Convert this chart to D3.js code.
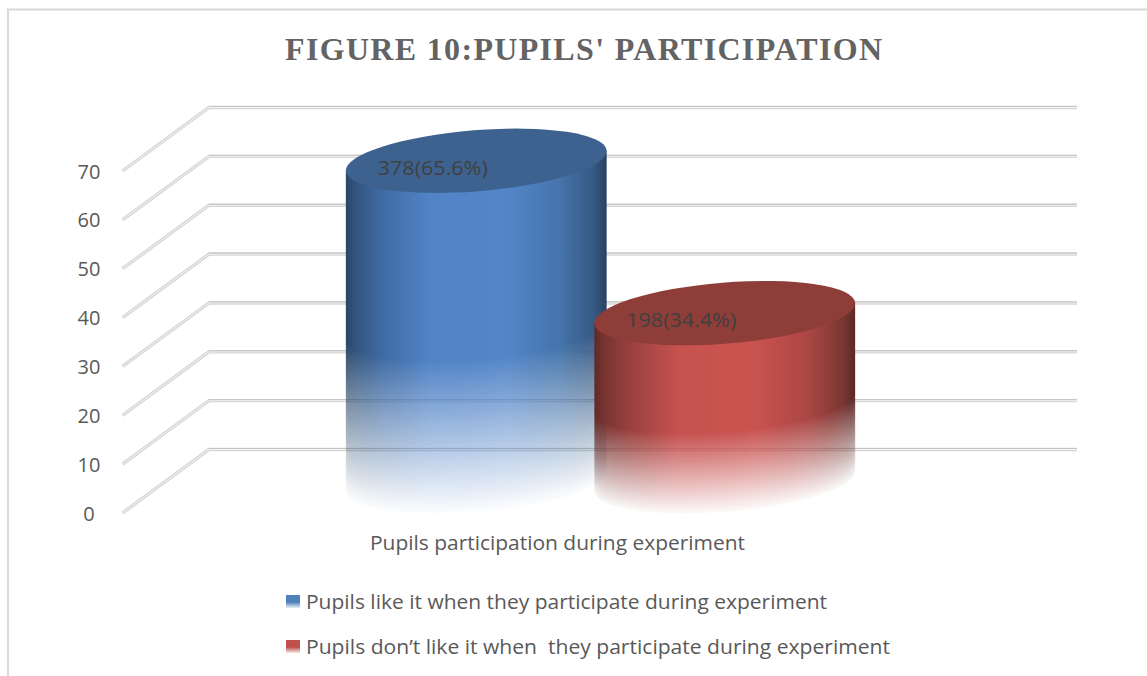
<!DOCTYPE html>
<html><head><meta charset="utf-8">
<script src="https://cdn.jsdelivr.net/npm/d3@7"></script>
<style>html,body{margin:0;padding:0;background:#fff}svg{display:block}</style>
</head><body><div id="chart"></div>
<script>
const titleText = "FIGURE 10:PUPILS' PARTICIPATION";
const categoryLabel = "Pupils participation during experiment";
const seriesNames = ["Pupils like it when they participate during experiment", "Pupils don\u2019t like it when  they participate during experiment"];
const seriesValues = [65.6, 34.4];
const dataLabels = ["378(65.6%)", "198(34.4%)"];
const tickValues = [0, 10, 20, 30, 40, 50, 60, 70];
const bodyStops = [
  [{o:0,c:"#2b4566"},{o:.04,c:"#33567f"},{o:.14,c:"#3f6ba3"},{o:.32,c:"#5183c6"},{o:.62,c:"#5385c8"},{o:.82,c:"#4474aa"},{o:.95,c:"#365a84"},{o:1,c:"#29415f"}],
  [{o:0,c:"#5f2a28"},{o:.04,c:"#793431"},{o:.14,c:"#9a413e"},{o:.32,c:"#c65250"},{o:.62,c:"#c95350"},{o:.82,c:"#ab4744"},{o:.95,c:"#7c3734"},{o:1,c:"#5a2927"}]
];
const capColors = ["#3e6290", "#8f3c38"];
const swatchColors = ["#4f81bd", "#c0504d"];

const W = 1147, H = 676;
const svg = d3.select("#chart").append("svg").attr("width", W).attr("height", H);
const defs = svg.append("defs");
const uiFont = "'Open Sans', Lato, sans-serif";

// frame
svg.append("path").attr("d", `M8,${H}V9.5H${W}`).attr("fill","none").attr("stroke","#d9d9d9").attr("stroke-width",2);

// title
svg.append("text").attr("x",583.5).attr("y",60).attr("text-anchor","middle")
  .attr("font-family","'Liberation Serif',serif").attr("font-weight","bold").attr("font-size",32)
  .attr("fill","#636363").attr("textLength",597).attr("lengthAdjust","spacing").text(titleText);

// scales: front edge of the floor / wall, and depth offset
const yFront = d3.scaleLinear().domain([0,70]).range([513,171]);
const depth = {dx:86.5, dy:-63.5};
const frontX = 122.5, rightX = 1077;
const yMid = v => yFront(v) + depth.dy/2;
const xBand = d3.scaleBand().domain(d3.range(seriesValues.length)).range([352,849]);

// grid
const grid = svg.append("g");
tickValues.forEach(v => {
  const yb = yFront(v)+depth.dy, xb = frontX+depth.dx;
  const d = `M${frontX},${yFront(v)}L${xb},${yb}H${rightX}`;
  grid.append("path").attr("d",d).attr("fill","none").attr("stroke","#d6d6d6").attr("stroke-width",3.4);
  grid.append("path").attr("d",d).attr("fill","none").attr("stroke","#f4f4f4").attr("stroke-width",1);
  grid.append("path").attr("d",`M${xb},${yb-1}H${rightX}`).attr("fill","none").attr("stroke","#c4c4c4").attr("stroke-width",1);
});

// axis labels
tickValues.forEach(v => {
  svg.append("text").attr("x",89).attr("y",yFront(v)+7.5).attr("text-anchor","middle")
    .attr("font-family",uiFont).attr("font-size",20).attr("fill","#595959").text(v);
});

// cylinders
const theta = -4.6*Math.PI/180, a = 130.8, b = 30.5;
const pt = (cx,cy,t)=>[cx+a*Math.cos(t)*Math.cos(theta)-b*Math.sin(t)*Math.sin(theta),
                       cy+a*Math.cos(t)*Math.sin(theta)+b*Math.sin(t)*Math.cos(theta)];
const t0 = Math.atan(-(b/a)*Math.tan(theta));
const lowerArc = (cx,cy)=>d3.range(0,41).map(i=>pt(cx,cy,t0+Math.PI*i/40));
const line = d3.line();
const blur = defs.append("filter").attr("id","soft").attr("x","-5%").attr("y","-5%").attr("width","110%").attr("height","110%");
blur.append("feGaussianBlur").attr("stdDeviation",0.7);

seriesValues.forEach((v,i)=>{
  const cx = xBand(i)+xBand.bandwidth()/2;
  const yTop = yMid(v), yBase = yMid(0);
  const g = defs.append("linearGradient").attr("id","body"+i).attr("x1",0).attr("x2",1).attr("y1",0).attr("y2",0);
  bodyStops[i].forEach(s=>g.append("stop").attr("offset",s.o).attr("stop-color",s.c));

  const fadeStart = yBase-(yBase-yTop)*0.48;
  const mask = defs.append("mask").attr("id","fade"+i).attr("maskUnits","userSpaceOnUse")
    .attr("x",0).attr("y",0).attr("width",W).attr("height",H);
  mask.append("rect").attr("width",W).attr("height",H).attr("fill","#fff");
  for(let y=fadeStart;y<=yBase+2;y+=1.5){
    const k = Math.max(0,Math.min(1,(yBase+2-y)/(yBase+2-fadeStart)));
    const l = Math.round(255*k);
    const arc = lowerArc(cx,y);
    const first = arc[0], last = arc[arc.length-1];
    mask.append("path").attr("fill",`rgb(${l},${l},${l})`)
      .attr("d",line(arc)+`L${last[0]-3},${H}L${first[0]+3},${H}Z`);
  }

  const gr = svg.append("g").attr("filter","url(#soft)");
  const arc = lowerArc(cx,yBase);
  const tr = pt(cx,yTop,t0), tl = pt(cx,yTop,t0+Math.PI);
  gr.append("path").attr("fill",`url(#body${i})`).attr("mask",`url(#fade${i})`)
    .attr("d",`M${tr[0]},${tr[1]}`+line(arc).replace(/^M/,"L")+`L${tl[0]},${tl[1]}Z`);
  gr.append("ellipse").attr("cx",0).attr("cy",0).attr("rx",a).attr("ry",b)
    .attr("transform",`translate(${cx},${yTop}) rotate(${theta*180/Math.PI})`).attr("fill",capColors[i]);
});

// data labels
seriesValues.forEach((v,i)=>{
  const cx = xBand(i)+xBand.bandwidth()/2;
  svg.append("text").attr("x",cx-43.5).attr("y",yMid(v)+14)
    .attr("text-anchor","middle").attr("font-family",uiFont).attr("font-size",20).attr("fill","#404040")
    .attr("textLength",110).attr("lengthAdjust","spacingAndGlyphs").text(dataLabels[i]);
});

// category label
svg.append("text").attr("x",557.5).attr("y",550).attr("text-anchor","middle")
  .attr("font-family",uiFont).attr("font-size",20).attr("fill","#595959")
  .attr("textLength",375).attr("lengthAdjust","spacingAndGlyphs").text(categoryLabel);

// legend
const legendLengths = [521, 584];
seriesNames.forEach((name,i)=>{
  const y0 = 595+i*45;
  const g = defs.append("linearGradient").attr("id","sw"+i).attr("x1",0).attr("x2",0).attr("y1",0).attr("y2",1);
  g.append("stop").attr("offset",0).attr("stop-color",swatchColors[i]);
  g.append("stop").attr("offset",.55).attr("stop-color",swatchColors[i]);
  g.append("stop").attr("offset",1).attr("stop-color",swatchColors[i]).attr("stop-opacity",.12);
  svg.append("rect").attr("x",286).attr("y",y0).attr("width",14).attr("height",13).attr("fill",`url(#sw${i})`);
  svg.append("text").attr("x",306).attr("y",y0+14).attr("font-family",uiFont).attr("font-size",20).attr("fill","#595959")
    .attr("xml:space","preserve").style("white-space","pre")
    .attr("textLength",legendLengths[i]).attr("lengthAdjust","spacingAndGlyphs").text(name);
});
</script></body></html>
